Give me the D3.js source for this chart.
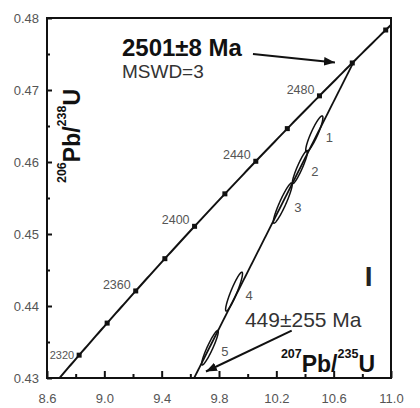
<!DOCTYPE html>
<html>
<head>
<meta charset="utf-8">
<script src="https://cdn.jsdelivr.net/npm/d3@7"></script>
<style>
body { margin: 0; background: #fff; }
text { font-family: "Liberation Sans", Arial, sans-serif; }
</style>
</head>
<body>
<div id="chart"></div>
<script>
// concordia marker ages (Ma), every 20 Ma, labelled every 40 Ma
const markerAges = [2320, 2340, 2360, 2380, 2400, 2420, 2440, 2460, 2480, 2500, 2520];
const labelAges = [2320, 2360, 2400, 2440, 2480];

// zircon spots: 207Pb/235U, 206Pb/238U, errors and error correlation
const spotIds = ['1', '2', '3', '4', '5'];
const pb207u235 = [10.465, 10.365, 10.245, 9.905, 9.737];
const pb206u238 = [0.4639, 0.4593, 0.4543, 0.4420, 0.4342];
const err207 = [0.060, 0.053, 0.066, 0.059, 0.058];
const err206 = [0.0025, 0.0023, 0.0028, 0.0027, 0.0024];
const rho = [0.90, 0.93, 0.93, 0.92, 0.93];

// discordia intercepts
const upperAge = 2501, upperErr = 8, mswd = 3;
const lowerAge = 449, lowerErr = 255;

const xTicks = [8.6, 9.0, 9.4, 9.8, 10.2, 10.6, 11.0];
const xMinor = [8.8, 9.2, 9.6, 10.0, 10.4, 10.8];
const yTicks = [0.43, 0.44, 0.45, 0.46, 0.47, 0.48];
const yMinor = [0.435, 0.445, 0.455, 0.465, 0.475];

// decay constants, per Ma
const L238 = 1.55125e-4, L235 = 9.8485e-4;
function concordia(t) {
    return [Math.exp(L235 * t) - 1, Math.exp(L238 * t) - 1];
}

const width = 420, height = 408;
const plotLeft = 47, plotRight = 391, plotTop = 18, plotBottom = 378;

const x = d3.scaleLinear().domain([8.6, 11.0]).range([plotLeft, plotRight]);
const y = d3.scaleLinear().domain([0.43, 0.48]).range([plotBottom, plotTop]);

const svg = d3.select('#chart').append('svg')
    .attr('width', width)
    .attr('height', height);

const defs = svg.append('defs');
defs.append('clipPath').attr('id', 'plotClip')
    .append('rect')
    .attr('x', plotLeft).attr('y', plotTop)
    .attr('width', plotRight - plotLeft).attr('height', plotBottom - plotTop);

defs.append('marker')
    .attr('id', 'arrow')
    .attr('markerUnits', 'userSpaceOnUse')
    .attr('viewBox', '0 0 10 8')
    .attr('refX', 10).attr('refY', 4)
    .attr('markerWidth', 11).attr('markerHeight', 9)
    .attr('orient', 'auto')
    .append('path').attr('d', 'M0,0 L10,4 L0,8 Z').attr('fill', '#111');

// axes (ticks point inwards)
function styleAxis(g) {
    g.select('.domain').remove();
    g.selectAll('line').attr('stroke', '#111').attr('stroke-width', 2);
    g.selectAll('text').attr('fill', '#555').attr('font-size', 13)
        .attr('font-family', '"Liberation Sans", Arial, sans-serif');
}

svg.append('g').attr('transform', 'translate(0,' + plotBottom + ')')
    .call(d3.axisBottom(x).tickValues(xTicks).tickFormat(d3.format('.1f'))
        .tickSize(-7).tickPadding(16))
    .call(styleAxis);
svg.append('g').attr('transform', 'translate(0,' + plotBottom + ')')
    .call(d3.axisBottom(x).tickValues(xMinor).tickFormat('').tickSize(-4))
    .call(styleAxis);
svg.append('g').attr('transform', 'translate(' + plotLeft + ',0)')
    .call(d3.axisLeft(y).tickValues(yTicks).tickFormat(d3.format('.2f'))
        .tickSize(-5).tickPadding(8))
    .call(styleAxis);
svg.append('g').attr('transform', 'translate(' + plotLeft + ',0)')
    .call(d3.axisLeft(y).tickValues(yMinor).tickFormat('').tickSize(-3))
    .call(styleAxis);

const plot = svg.append('g').attr('clip-path', 'url(#plotClip)');

// concordia curve
const curveAges = d3.range(2280, 2561, 2);
const line = d3.line().x(d => x(d[0])).y(d => y(d[1]));
plot.append('path')
    .attr('d', line(curveAges.map(concordia)))
    .attr('fill', 'none').attr('stroke', '#111').attr('stroke-width', 2);

// discordia between the intercepts
const upperPt = concordia(upperAge), lowerPt = concordia(lowerAge);
plot.append('path')
    .attr('d', line([lowerPt, upperPt]))
    .attr('fill', 'none').attr('stroke', '#111').attr('stroke-width', 1.8);

// error ellipses
const phis = d3.range(0, 2 * Math.PI, Math.PI / 90);
spotIds.forEach((id, i) => {
    let pts = phis.map(p => [
        pb207u235[i] + err207[i] * Math.cos(p),
        pb206u238[i] + err206[i] * (rho[i] * Math.cos(p) + Math.sqrt(1 - rho[i] * rho[i]) * Math.sin(p))
    ]);
    plot.append('path')
        .attr('d', d3.line().x(d => x(d[0])).y(d => y(d[1])).curve(d3.curveLinearClosed)(pts))
        .attr('fill', 'none').attr('stroke', '#111').attr('stroke-width', 1.5);
    svg.append('text')
        .attr('x', x(pb207u235[i]) + 15)
        .attr('y', y(pb206u238[i]) + 4)
        .attr('text-anchor', 'middle')
        .attr('dominant-baseline', 'central')
        .attr('font-size', 13).attr('fill', '#555')
        .text(id);
});

// concordia markers and age labels
plot.selectAll('rect.marker').data(markerAges).enter().append('rect')
    .attr('class', 'marker')
    .attr('x', d => x(concordia(d)[0]) - 2.5)
    .attr('y', d => y(concordia(d)[1]) - 2.5)
    .attr('width', 5).attr('height', 5)
    .attr('fill', '#111');

svg.selectAll('text.age').data(labelAges).enter().append('text')
    .attr('class', 'age')
    .attr('x', d => x(concordia(d)[0]) - 5)
    .attr('y', d => y(concordia(d)[1]) - (d === labelAges[0] ? 0 : 6))
    .attr('text-anchor', 'end')
    .attr('dominant-baseline', 'central')
    .attr('font-size', d => d === labelAges[0] ? 11 : 12.5).attr('fill', '#555')
    .text(d => d);

// frame
svg.append('rect')
    .attr('x', plotLeft).attr('y', plotTop)
    .attr('width', plotRight - plotLeft).attr('height', plotBottom - plotTop)
    .attr('fill', 'none').attr('stroke', '#111').attr('stroke-width', 2);

// intercept annotations
svg.append('text')
    .attr('x', x(9.123)).attr('y', y(0.47472))
    .attr('font-size', 24).attr('font-weight', 'bold').attr('fill', '#111')
    .text(upperAge + '±' + upperErr + ' Ma');
svg.append('text')
    .attr('x', x(9.123)).attr('y', y(0.47171))
    .attr('font-size', 19).attr('fill', '#333')
    .text('MSWD=' + mswd);
svg.append('line')
    .attr('x1', x(10.037)).attr('y1', y(0.4750))
    .attr('x2', x(10.609)).attr('y2', y(0.47382))
    .attr('stroke', '#111').attr('stroke-width', 2)
    .attr('marker-end', 'url(#arrow)');

svg.append('text')
    .attr('x', x(9.981)).attr('y', y(0.43704))
    .attr('font-size', 21).attr('fill', '#333')
    .text(lowerAge + '±' + lowerErr + ' Ma');
svg.append('line')
    .attr('x1', x(10.307)).attr('y1', y(0.43657))
    .attr('x2', x(9.709)).attr('y2', y(0.4309))
    .attr('stroke', '#111').attr('stroke-width', 2)
    .attr('marker-end', 'url(#arrow)');

// panel mark
svg.append('text')
    .attr('x', x(10.844)).attr('y', y(0.44282))
    .attr('text-anchor', 'middle')
    .attr('font-size', 28).attr('font-weight', 'bold').attr('fill', '#222')
    .text('I');

// axis titles
function isotopeTitle(sel, topMass, topEl, botMass, botEl) {
    sel.attr('font-weight', 'bold').attr('fill', '#111');
    sel.append('tspan').attr('font-size', 12.5).attr('dy', -14).text(topMass);
    sel.append('tspan').attr('font-size', 23).attr('dy', 14).text(topEl + '/');
    sel.append('tspan').attr('font-size', 12.5).attr('dy', -14).text(botMass);
    sel.append('tspan').attr('font-size', 23).attr('dy', 14).text(botEl);
}
svg.append('text')
    .attr('x', 375).attr('y', 372)
    .attr('text-anchor', 'end')
    .call(isotopeTitle, '207', 'Pb', '235', 'U');
svg.append('text')
    .attr('transform', 'translate(80,136) rotate(-90)')
    .attr('text-anchor', 'middle')
    .call(isotopeTitle, '206', 'Pb', '238', 'U');
</script>
</body>
</html>
